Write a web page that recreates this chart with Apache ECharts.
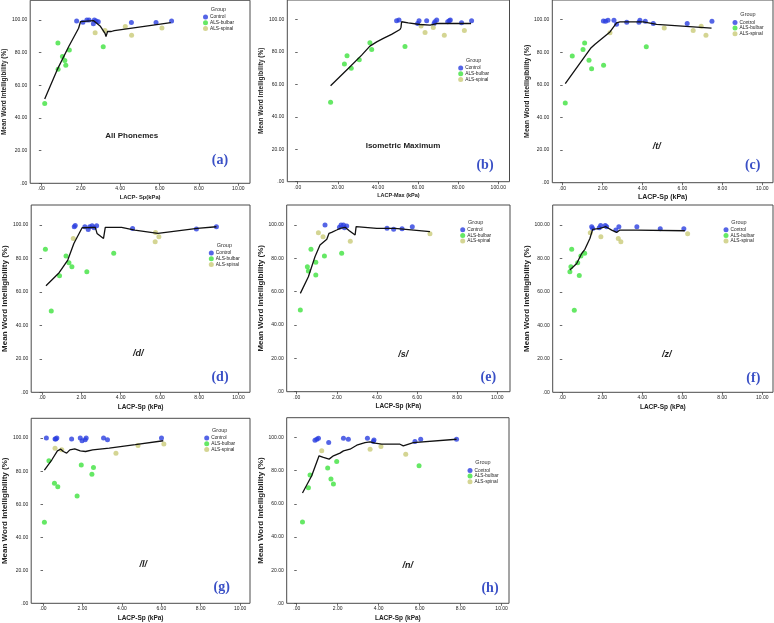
<!DOCTYPE html>
<html><head><meta charset="utf-8">
<script src="https://cdn.jsdelivr.net/npm/echarts@6/dist/echarts.min.js"></script>
<style>html,body{margin:0;padding:0;background:#fff}#c{width:774px;height:623px}</style>
</head><body><div id="c"></div>
<script>
// ---- data ----
const groupNames = ['Control', 'ALS-bulbar', 'ALS-spinal'];
const spTicks = [0, 2, 4, 6, 8, 10];
const maxTicks = [0, 20, 40, 60, 80, 100];
const yTicks = [0, 20, 40, 60, 80, 100];

// (a) All Phonemes, LACP-Sp
const aControl = [[1.79,99.4],[2.11,98.6],[2.31,100],[2.42,100],[2.69,100],[2.64,97.6],[2.78,99.4],[2.89,98.8],[4.57,98.4],[5.82,98.4],[6.61,99.4]];
const aBulbar = [[0.17,48.8],[0.84,85.9],[0.85,69.8],[1.07,77.6],[1.19,75.1],[1.24,72.2],[1.42,81.6],[3.14,83.5]];
const aSpinal = [[2.73,92.2],[3.23,93.5],[4.26,95.9],[4.58,90.6],[6.12,95.1]];
const aFit = [[0.17,51.6],[0.8,69.4],[1.39,83.7],[1.89,94.9],[1.99,99],[2.05,99.6],[2.64,99.6],[2.98,96.3],[3.23,91.8],[3.28,89.8],[3.36,92.9],[3.45,93.5],[3.55,92.9],[3.7,93.5],[6.57,98.4]];

// (b) Isometric Maximum, LACP-Max
const bControl = [[49.3,99.2],[50.5,99.6],[59.8,97.5],[60.5,99.2],[64.3,99.2],[68.0,97.5],[68.4,98.6],[69.3,99.6],[74.8,98.6],[75.6,99.2],[76.1,99.6],[81.7,97.9],[86.7,99.2]];
const bBulbar = [[16.4,48.9],[23.3,72.5],[24.6,77.6],[26.7,70.0],[30.7,75.2],[36.0,85.6],[36.9,81.5],[53.5,83.4]];
const bSpinal = [[61.5,95.9],[63.5,92.0],[67.6,95.1],[73.1,90.3],[83.1,93.2]];
const bFit = [[16.4,59.1],[25.2,69.8],[31.9,78.0],[36.0,83.6],[39.4,86.2],[42.7,88.3],[46.8,90.8],[51.0,93.8],[51.5,95.1],[51.8,98.6],[55.1,97.9],[61.0,96.9],[66.0,96.5],[69.3,97.5],[73.4,97.5],[86.4,97.5]];

// (c) /t/
const cControl = [[2.04,99.2],[2.15,99.0],[2.27,99.6],[2.57,99.6],[2.70,97.1],[3.21,98.4],[3.82,98.4],[3.87,99.6],[4.14,99.0],[4.54,97.6],[6.24,97.6],[7.48,99.0]];
const cBulbar = [[0.13,48.8],[0.48,77.6],[1.02,81.6],[1.10,85.7],[1.32,75.1],[1.45,69.8],[2.05,72.0],[4.19,83.3]];
const cSpinal = [[2.37,92.0],[5.09,94.9],[6.54,93.3],[6.94,95.9],[7.18,90.4]];
const cFit = [[0.13,60.8],[1.40,82.4],[1.62,84.9],[2.37,92.4],[2.70,98.0],[2.87,98.6],[4.04,98.6],[4.71,97.1],[7.46,94.7]];

// (d) /d/
const dControl = [[1.64,99.0],[1.69,99.8],[2.18,99.0],[2.35,97.4],[2.43,99.0],[2.55,99.6],[2.65,98.4],[2.78,99.6],[4.61,98.0],[7.86,97.6],[8.88,99.0]];
const dBulbar = [[0.17,85.5],[0.47,48.6],[0.89,69.7],[1.22,81.5],[1.37,77.5],[1.52,75.1],[2.28,72.1],[3.65,83.1]];
const dSpinal = [[1.59,92.0],[5.78,95.6],[5.95,93.0],[5.76,90.0]];
const dFit = [[0.2,63.7],[0.87,71.5],[1.31,79.1],[1.62,89.0],[2.04,98.4],[2.71,98.6],[2.8,95.0],[3.13,92.0],[3.22,98.6],[4.05,98.6],[4.72,97.0],[5.9,95.0],[7.9,98.0],[8.88,99.0]];

// (e) /s/
const eControl = [[1.41,100],[2.13,98.6],[2.21,100],[2.33,100],[2.38,98.4],[2.49,99.4],[4.50,98.0],[4.83,97.4],[5.25,97.8],[5.76,99.0]];
const eBulbar = [[0.18,49.0],[0.53,75.0],[0.58,72.4],[0.71,85.4],[0.95,77.6],[0.95,70.0],[1.38,81.4],[2.24,83.0]];
const eSpinal = [[1.08,95.4],[1.31,93.0],[2.67,90.2],[6.64,94.8]];
const eFit = [[0.18,59.0],[0.58,69.0],[0.91,81.0],[1.16,88.0],[1.5,91.4],[1.61,95.0],[1.74,95.6],[1.99,97.0],[2.16,98.0],[2.41,98.6],[2.62,96.6],[2.91,94.0],[2.96,99.0],[3.99,98.0],[4.9,98.0],[6.64,96.0]];

// (f) /z/
const fControl = [[1.47,99.0],[1.52,98.0],[1.85,98.4],[1.92,99.8],[2.15,99.8],[2.22,99.0],[2.68,97.0],[2.83,99.0],[3.73,99.0],[4.90,97.8],[6.08,97.8]];
const fBulbar = [[0.38,72.1],[0.43,75.1],[0.47,85.5],[0.60,49.0],[0.77,77.5],[0.85,69.9],[0.93,81.5],[1.12,83.1]];
const fSpinal = [[1.40,95.4],[1.93,93.0],[2.80,92.0],[2.93,90.0],[6.27,94.8]];
const fFit = [[0.38,73.1],[0.72,77.0],[0.97,83.0],[1.13,85.5],[1.38,92.0],[1.52,97.4],[1.88,98.0],[2.18,99.0],[2.47,97.0],[2.72,95.6],[2.88,97.0],[3.72,97.0],[6.13,96.6]];

// (g) /l/
const gControl = [[0.17,100],[0.61,99.4],[0.65,99.4],[0.70,100],[1.45,99.4],[1.89,100],[1.98,98.4],[2.14,99.0],[2.19,100],[3.07,100],[3.27,99.0],[6.01,100]];
const gBulbar = [[0.07,49.1],[0.30,86.3],[0.58,72.7],[0.75,70.5],[1.73,65.0],[1.94,83.8],[2.48,78.2],[2.56,82.2]];
const gSpinal = [[0.61,93.9],[0.95,92.9],[3.70,90.9],[4.82,95.6],[6.13,96.4]];
const gFit = [[0.07,80.6],[0.45,86.9],[0.73,92.3],[0.9,93.3],[1.03,91.9],[1.2,90.9],[1.36,92.9],[1.61,93.5],[1.89,92.3],[2.16,91.9],[2.52,92.9],[3.36,93.9],[4.68,96.0],[6.1,98.4]];

// (h) /n/
const hControl = [[0.89,98.4],[0.98,99.0],[1.06,99.6],[1.56,97.0],[2.28,99.6],[2.52,99.0],[3.45,99.6],[3.74,97.6],[3.77,98.6],[5.77,97.6],[6.05,99.0],[7.80,99.0]];
const hBulbar = [[0.28,49.0],[0.57,69.8],[0.65,77.4],[1.51,81.6],[1.67,75.0],[1.79,72.0],[1.95,85.6],[5.97,83.0]];
const hSpinal = [[1.22,92.0],[3.58,93.0],[4.11,94.6],[5.32,90.0]];
const hFit = [[0.28,66.6],[0.73,77.0],[1.09,89.0],[1.3,88.0],[1.58,87.0],[1.79,89.0],[2.11,90.6],[2.28,92.0],[2.6,93.0],[2.93,95.4],[3.33,97.0],[3.58,97.4],[3.82,96.6],[4.15,96.0],[5.04,96.0],[5.2,95.0],[5.69,97.0],[7.8,99.0]];

const panels = [
  {control:aControl,bulbar:aBulbar,spinal:aSpinal,fit:aFit,label:'All Phonemes',letter:'(a)',xName:'LACP- Sp(kPa)',ticks:spTicks},
  {control:bControl,bulbar:bBulbar,spinal:bSpinal,fit:bFit,label:'Isometric Maximum',letter:'(b)',xName:'LACP-Max (kPa)',ticks:maxTicks},
  {control:cControl,bulbar:cBulbar,spinal:cSpinal,fit:cFit,label:'/t/',letter:'(c)',xName:'LACP-Sp (kPa)',ticks:spTicks},
  {control:dControl,bulbar:dBulbar,spinal:dSpinal,fit:dFit,label:'/d/',letter:'(d)',xName:'LACP-Sp (kPa)',ticks:spTicks},
  {control:eControl,bulbar:eBulbar,spinal:eSpinal,fit:eFit,label:'/s/',letter:'(e)',xName:'LACP-Sp (kPa)',ticks:spTicks},
  {control:fControl,bulbar:fBulbar,spinal:fSpinal,fit:fFit,label:'/z/',letter:'(f)',xName:'LACP-Sp (kPa)',ticks:spTicks},
  {control:gControl,bulbar:gBulbar,spinal:gSpinal,fit:gFit,label:'/l/',letter:'(g)',xName:'LACP-Sp (kPa)',ticks:spTicks},
  {control:hControl,bulbar:hBulbar,spinal:hSpinal,fit:hFit,label:'/n/',letter:'(h)',xName:'LACP-Sp (kPa)',ticks:spTicks}
];

// ---- layout / style ----
const frames = [ // L, T, R, B, xmin, xmax
  [27.7, 0.3, 250, 183.3, -0.567, 10.59],
  [287.3, -0.2, 509.5, 181.7, -5.18, 105.6],
  [552.3, -0.3, 773, 182.7, -0.52, 10.54],
  [28.3, 205, 250, 392.3, -0.553, 10.59],
  [286.7, 205, 510, 391.7, -0.5, 10.63],
  [552.7, 205, 773, 392.3, -0.48, 10.54],
  [27.3, 418.3, 250, 603.3, -0.6, 10.5],
  [286.7, 417.7, 509, 603.3, -0.49, 10.36]
];
const styles = [ // yNameSize, xNameSize, labelSize, labelItalic, labelPos[x,y], letterPos[x,y], legendIcon[x,y]
  [6.5, 5.8, 8, false, [131.7,136], [220,160.7], [205.5,17.3]],
  [6.5, 5.5, 8, false, [403,145.7], [485,165], [460.7,68.3]],
  [7, 7, 9, true, [656.7,146.7], [752.7,165.7], [735,22.7]],
  [8, 6.5, 9, true, [138.3,353.3], [220,377.7], [211.3,253.3]],
  [8, 6.5, 9, true, [403.3,354.3], [488.3,377.3], [462.7,230]],
  [8, 6.5, 9, true, [666.7,355], [753.3,378.3], [726,230]],
  [8, 6.5, 9, true, [143.3,565], [221.7,587.7], [206.7,438.3]],
  [8, 6.5, 9, true, [407.7,566], [490,588.3], [470,470.7]]
];
const colors = {Control:'#2a3ee0', 'ALS-bulbar':'#3ee23e', 'ALS-spinal':'#c9ca78'};
const FONT = '"Liberation Sans", Arial, sans-serif';
const fmt = v => v === 0 ? '.00' : v.toFixed(2);

const grid = [], xAxis = [], yAxis = [], series = [], title = [], legend = [];
panels.forEach((p, i) => {
  const [L, T, R, B, xmin, xmax] = frames[i];
  const st = styles[i];
  grid.push({left:L, top:T, width:R-L, height:B-T, show:true, borderColor:'#4a4a4a', borderWidth:1, backgroundColor:'#fff', containLabel:false});
  xAxis.push({type:'value', gridIndex:i, min:xmin, max:xmax,
    axisLine:{show:false}, splitLine:{show:false},
    axisTick:{show:true, length:2.5, inside:false, customValues:p.ticks, lineStyle:{color:'#444', width:0.8}},
    axisLabel:{customValues:p.ticks, formatter:fmt, fontSize:5, color:'#222', fontFamily:FONT, margin:3},
    name:p.xName, nameLocation:'middle', nameGap:11,
    nameTextStyle:{fontSize:st[1], fontWeight:'bold', color:'#222', fontFamily:FONT}});
  yAxis.push({type:'value', gridIndex:i, min:0, max:112,
    axisLine:{show:false}, splitLine:{show:false},
    axisTick:{show:true, length:2.5, customValues:yTicks, lineStyle:{color:'#444', width:0.8}},
    axisLabel:{customValues:yTicks, formatter:fmt, fontSize:5, color:'#222', fontFamily:FONT, margin:3},
    name:'Mean Word Intelligibility (%)', nameLocation:'middle', nameGap:20,
    nameTextStyle:{fontSize:st[0], fontWeight:'bold', color:'#222', fontFamily:FONT}});
  series.push({type:'line', name:'Fit', data:p.fit, xAxisIndex:i, yAxisIndex:i, showSymbol:false, symbol:'none',
    lineStyle:{color:'#111', width:1.3}, z:3, silent:true});
  [['Control',p.control],['ALS-bulbar',p.bulbar],['ALS-spinal',p.spinal]].forEach(([n, d]) => {
    series.push({type:'scatter', name:n, data:d, xAxisIndex:i, yAxisIndex:i, symbolSize:5,
      itemStyle:{color:colors[n]}, z:2});
  });
  title.push({text:p.label, left:st[4][0], top:st[4][1], textAlign:'center', textVerticalAlign:'middle', padding:0,
    textStyle:{fontSize:st[2], fontWeight:'bold', fontStyle:st[3]?'italic':'normal', color:'#222', fontFamily:FONT}});
  title.push({text:p.letter, left:st[5][0], top:st[5][1], textAlign:'center', textVerticalAlign:'middle', padding:0,
    textStyle:{fontSize:14, fontWeight:'bold', color:'#3a50c6', fontFamily:'"Liberation Serif", "Times New Roman", serif'}});
  title.push({text:'Group', left:st[6][0]+13, top:st[6][1]-8, textAlign:'center', textVerticalAlign:'middle', padding:0,
    textStyle:{fontSize:5.5, fontWeight:'normal', color:'#333', fontFamily:FONT}});
  legend.push({data:groupNames, orient:'vertical', left:st[6][0]-2.5, top:st[6][1]-2.8, padding:0, itemGap:0.7,
    itemWidth:5, itemHeight:5, icon:'circle', selectedMode:false,
    textStyle:{fontSize:4.8, lineHeight:5, color:'#222', fontFamily:FONT, padding:[0,0,0,-3]}});
});

const chart = echarts.init(document.getElementById('c'), null, {renderer:'canvas'});
chart.setOption({backgroundColor:'#fff', animation:false, grid, xAxis, yAxis, series, title, legend});
</script>
</body></html>
